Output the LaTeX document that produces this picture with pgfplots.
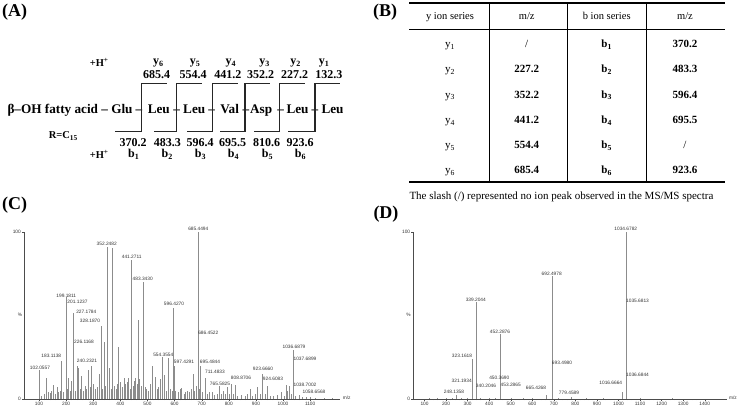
\documentclass[border=0pt]{standalone}
\usepackage{fontspec}
\setmainfont{Liberation Serif}
\newfontfamily\arial{Liberation Sans}
\usepackage{pgfplots}
\pgfplotsset{compat=1.18}
\pgfplotsset{ms/.style={
  scale only axis, anchor=south west,
  axis x line=bottom, axis y line=left,
  axis line style={-, line width=0.4pt, black!70},
  ymin=0, ymax=100, height=166.7pt,
  ytick={0,100}, yticklabels={0,100},
  tick label style={font=\arial\fontsize{4.8}{5}\selectfont, text=black!80},
  xticklabel style={inner sep=0.6pt},
  yticklabel style={inner sep=1pt},
  tick style={black!70, line width=0.3pt},
  major tick length=2pt, minor tick length=1.2pt,
  minor x tick num=4, tick align=outside, clip=false,
  scaled ticks=false,
  /pgf/number format/assume math mode=true,
  /pgf/number format/set thousands separator={},
}}
\tikzset{
  lbl/.style={font=\arial\fontsize{4.8}{5}\selectfont, text=black!80, inner sep=0pt},
  A/.style={font=\bfseries\fontsize{13.2}{14}\selectfont, inner sep=0pt, anchor=base},
  An/.style={font=\bfseries\fontsize{12}{13}\selectfont, inner sep=0pt, anchor=base},
  Ah/.style={font=\bfseries\fontsize{10.5}{12}\selectfont, inner sep=0pt, anchor=base},
  Th/.style={font=\fontsize{10.5}{12}\selectfont, inner sep=0pt, anchor=base},
  Tb/.style={font=\bfseries\fontsize{11}{12}\selectfont, inner sep=0pt, anchor=base},
  Tr/.style={font=\fontsize{11}{12}\selectfont, inner sep=0pt, anchor=base},
  P/.style={font=\bfseries\fontsize{18}{20}\selectfont, inner sep=0pt, anchor=base west},
}
\begin{document}
\begin{tikzpicture}[x=1pt,y=1pt]
\path[use as bounding box] (0,0) rectangle (738,406);

% ---------------- Panel C ----------------
\begin{axis}[ms, at={(24pt,7pt)}, width=316pt, xmin=44.7, xmax=1210,
  xtick={100,200,...,1100}]
\addplot[ycomb, black!45, line width=0.45pt, mark=none] table {
mz pct
102.06 17.6
110 2
118 3
128 12.8
133 4
141 3.5
146 5
153 8.4
160 3
167 7
172 4
178 5
183.11 23
188 4
199.18 61.4
201.12 57
205 6
208 12.8
214 5
219 11
226.12 31
227.18 51.6
232 5
240.23 20
246 18.6
251 6
256 13.8
263 5
270 8
276 6
282 17.4
289 7
294 20
300 9
306 6
313 7
321 15
328.19 44
335 6
341 34.4
346 8
352.25 91.4
359 18.6
365 6
370.2 90.8
376 8
383 6
388 9
394 31.4
400 10
406 7
413 12.6
418 9
424 10
429 12.8
436 6
441.27 83.4
447 8
452 11
456 12.8
461 9
465 47.4
470 12
476 8
483.34 70.4
490 7
497 6
504 5
511 9
519 20
528 13
535 6
541 7
546 12
554.36 25.4
562 14.6
568 5
577 24.8
584 6
590 5
596.43 54.4
597.43 20
604 5
612 4
620 6
626 6.8
634 3
641 4
648 5
655 4
661 6
667 15
674 5
681 8
685.45 100
686.45 38.4
690 6
695.48 20
702 4
711.48 12.8
720 3
729 4
739 4
748 2.5
757 3
765.58 8
772 3
780 5
787 3
794 7
800 3
808.87 9
815 3
823 8.6
832 2
845 2.5
860 2
868 3
878 6
888 2
897 3
906 7.4
915 3
923.67 15
924.61 9
933 3
942 7.6
952 2
965 2
980 2.5
995 4
1005 2
1011 8.6
1016 5
1022 7.8
1030 3
1036.69 29.4
1037.69 21.6
1038.70 6.6
1045 2
1058.66 2.4
1070 1
1085 1.2
1100 1
1120 0.8
1150 0.8
1180 0.6
};
\end{axis}

% ---------------- Panel D ----------------
\begin{axis}[ms, at={(413.3pt,7pt)}, width=313.4pt, xmin=48, xmax=1502,
  xtick={100,200,...,1400}]
\addplot[ycomb, black!45, line width=0.45pt, mark=none] table {
mz pct
120 0.6
160 0.5
200 0.8
230 0.7
248.14 2.4
270 0.6
300 0.8
321.19 9.4
323.16 24
339.20 58
340.20 5.4
360 0.8
400 0.6
430 0.8
450.37 10.4
452.29 38.8
453.29 6.6
500 0.5
560 0.6
600 0.5
665.43 2.5
692.50 73.6
693.50 19.4
720 0.6
779.46 1.2
850 0.5
930 0.5
1016.67 4.4
1034.68 100
1035.68 56.4
1036.68 12.4
1100 0.5
1250 0.4
};
\end{axis}

\begin{scope}[shift={(0,406)}, yscale=-1]
% panel letters
\node[P] at (2,16.7) {(A)};
\node[P] at (373,16.7) {(B)};
\node[P] at (2,210) {(C)};
\node[P] at (373.3,219) {(D)};

% ---------------- Panel A ----------------
\node[A, anchor=base west] at (7.3,113.3) {β–OH fatty acid – Glu};
\foreach \x/\t in {158.8/Leu,194.2/Leu,229.7/Val,261.2/Asp,297.5/Leu,332.5/Leu}
  \node[A] at (\x,113.3) {\t};
\foreach \x in {139,176.7,211.7,246,280.7,315}
  \node[A] at (\x,113.3) {–};
\foreach \v/\te/\bs in {141.7/166.7/115, 176.7/201.7/154, 212.3/238.3/187.3,
                        245/270/220, 279.3/305/254, 315/340/288.3}
  \draw[line width=1.2pt, black!85] (\v,83.3) -- (\te,83.3) (\v,83.3) -- (\v,131.7) -- (\bs,131.7);
\node[Ah] at (99.2,66.7) {+H\textsuperscript{+}};
\node[Ah] at (99.2,158.3) {+H\textsuperscript{+}};
\foreach \x/\s in {158.3/6,195/5,230.8/4,264.5/3,295.5/2,324.2/1}
  \node[An] at (\x,64.5) {y\textsubscript{\s}};
\foreach \x/\n in {156.7/685.4,193/554.4,227.8/441.2,260.7/352.2,294.5/227.2,328.8/132.3}
  \node[An] at (\x,79) {\n};
\foreach \x/\n in {133/370.2,167.3/483.3,200/596.4,232.5/695.5,266.7/810.6,300/923.6}
  \node[An] at (\x,146.7) {\n};
\foreach \x/\s in {133.8/1,167.2/2,200.5/3,233.5/4,267.5/5,300.5/6}
  \node[An] at (\x,158) {b\textsubscript{\s}};
\node[Ah] at (63.3,139) {R=C\textsubscript{15}};

% ---------------- Panel B ----------------
\draw[line width=2pt] (409.3,2.8) -- (725,2.8);
\draw[line width=0.8pt] (409.3,29.3) -- (725,29.3);
\draw[line width=2pt] (409.3,181.7) -- (725,181.7);
\foreach \x in {489.3,567.7,646}
  \draw[line width=0.7pt] (\x,2.8) -- (\x,181.7);
\node[Th] at (450,19.5) {y ion series};
\node[Th] at (526.7,19.5) {m/z};
\node[Th] at (606.7,19.5) {b ion series};
\node[Th] at (685,19.5) {m/z};
\foreach \yb/\s/\ya/\bb [count=\i] in {47.5/1/{\mdseries /}/370.2, 72.8/2/227.2/483.3, 98.1/3/352.2/596.4,
     123.4/4/441.2/695.5, 148.7/5/554.4/{\mdseries /}, 174/6/685.4/923.6} {
  \node[Tr] at (450,\yb) {y\textsubscript{\s}};
  \node[Tb] at (526.7,\yb) {\ya};
  \node[Tb] at (606.7,\yb) {b\textsubscript{\s}};
  \node[Tb] at (685,\yb) {\bb};
}
\node[Tr, anchor=base west] at (409.3,200) {The slash (/) represented no ion peak observed in the MS/MS spectra};

% ---------------- spectrum annotations C ----------------
\node[lbl] at (20,315) {\%};
\node[lbl] at (346.7,398) {m/z};
\foreach \x/\y/\t in {198.3/229.3/685.4494, 106.7/244.3/352.2482, 131.7/257.3/441.2711,
   142.7/279/483.3430, 66.3/295.7/199.1811, 77.5/302.3/201.1237, 174/304.3/596.4270,
   86.3/311.7/227.1784, 90/321/328.1870, 208.3/332.5/686.4522, 84/342/226.1168,
   51.3/356.3/183.1138, 163.3/355/554.3554, 87/360.8/240.2321, 184/361.5/597.4291,
   210/361.7/695.4844, 40/367.7/102.0557, 215/371.7/711.4833, 241/377.7/808.8706,
   220/383.7/765.5825, 263/369/923.6660, 273/379/924.6083, 294/346.7/1036.6879,
   305/359.3/1037.6899, 305/384.7/1038.7002, 314/391.7/1058.6568}
  \node[lbl] at (\x,\y) {\t};

% ---------------- spectrum annotations D ----------------
\node[lbl] at (408.5,315) {\%};
\node[lbl] at (733,398) {m/z};
\foreach \x/\y/\t in {625.8/229.3/1034.6782, 637.5/300.7/1035.6813, 637.5/375/1036.6844,
   610.8/383.3/1016.6664, 551.7/274/692.4978, 562/363.3/693.4980, 475.8/300/339.2044,
   500/331.7/452.2876, 462/355.7/323.1618, 461.7/380.7/321.1934, 499.3/378/450.3690,
   486/386/340.2046, 510.7/385/453.2865, 454/391.7/248.1358, 536/388.3/665.4268,
   569/393.3/779.4589}
  \node[lbl] at (\x,\y) {\t};
\end{scope}
\end{tikzpicture}
\end{document}
